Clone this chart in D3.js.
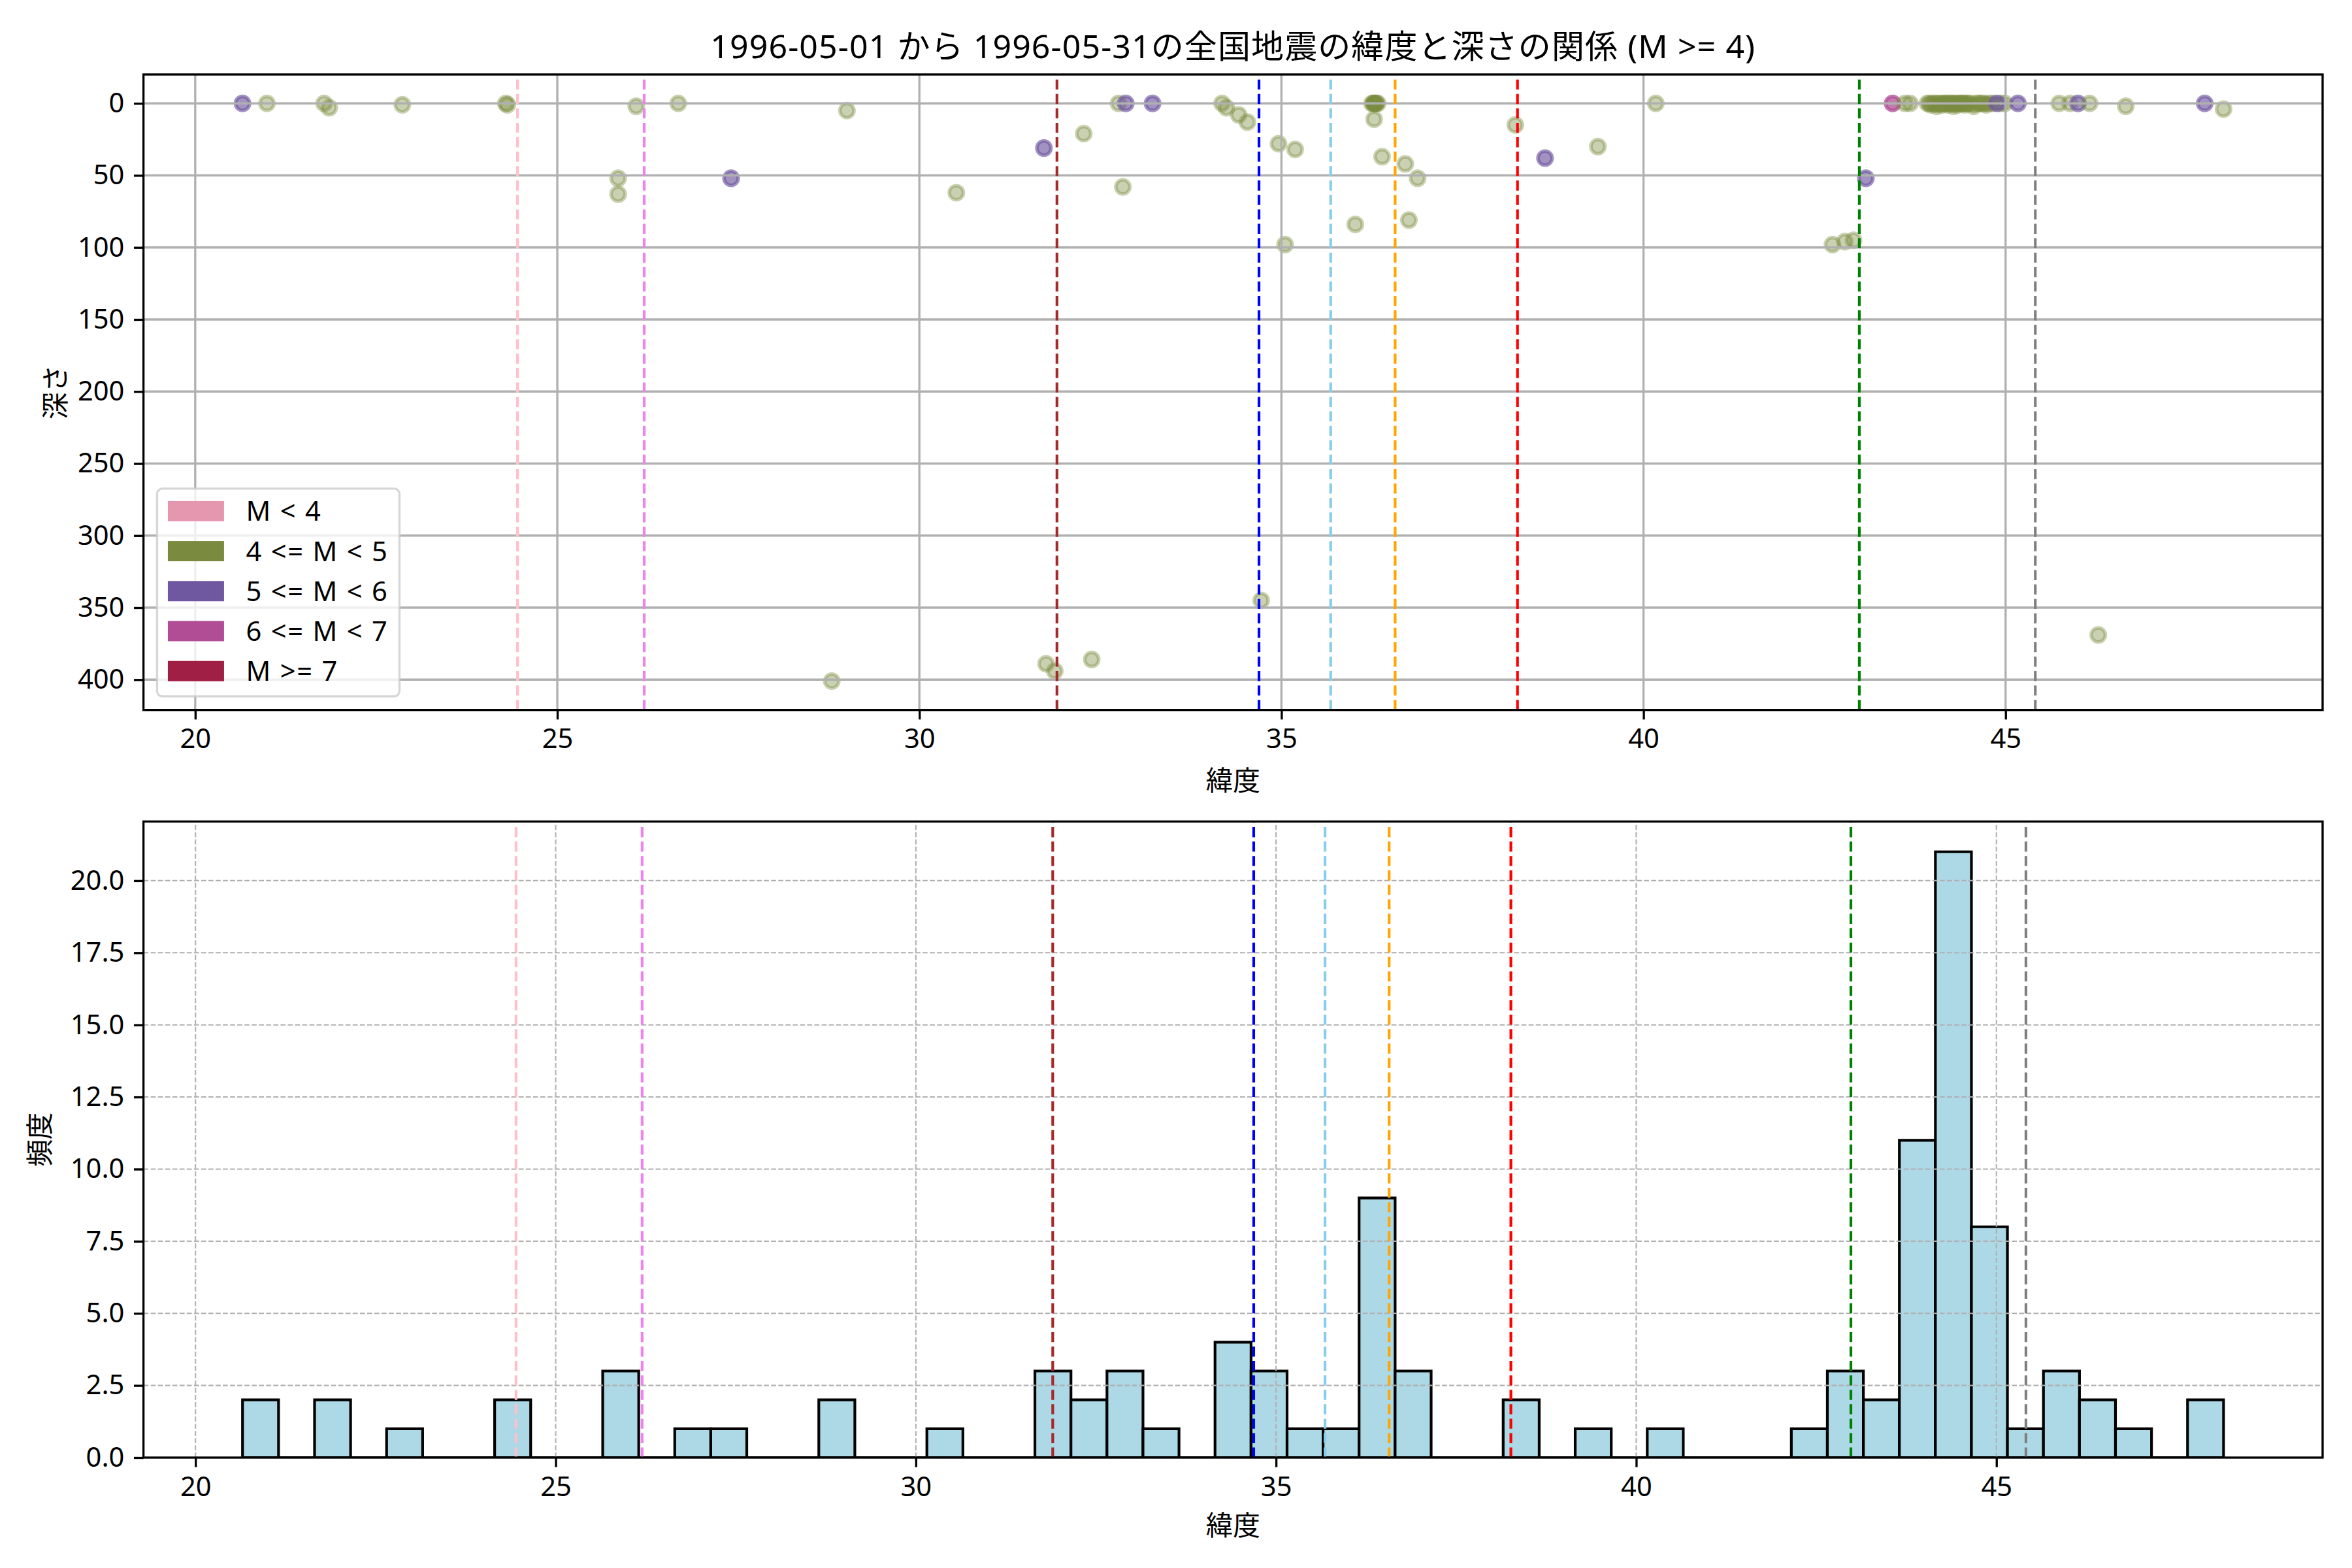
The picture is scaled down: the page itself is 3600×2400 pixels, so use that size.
<!DOCTYPE html>
<html><head><meta charset="utf-8">
<script src="https://cdn.jsdelivr.net/npm/d3@7"></script>
<style>
body{margin:0;background:#fff}
svg{display:block}
text{font-family:"Noto Sans","Noto Sans CJK JP",sans-serif;fill:#000}
</style>
</head><body><svg id="c" width="3600" height="2400"></svg>
<script>
// ---------- data ----------
const titleText = "1996-05-01 から 1996-05-31の全国地震の緯度と深さの関係 (M >= 4)";
const quakeLat = [
  20.653, 20.99, 21.78, 21.85, 22.86, 24.29, 24.31, 25.84, 25.84, 26.09,
  26.67, 27.40, 28.79, 29.00, 30.51, 31.72, 31.75, 31.87, 32.27, 32.38,
  32.75, 32.81, 32.85, 33.22, 34.18, 34.24, 34.41, 34.53, 34.72, 34.96,
  35.05, 35.19, 36.02, 36.25, 36.27, 36.28, 36.29, 36.30, 36.31, 36.33,
  36.28, 36.39, 36.71, 36.76, 36.88, 38.23, 38.64, 39.37, 40.17, 42.61,
  42.78, 42.90, 43.07, 43.44, 43.61, 43.68,
  43.92, 43.95, 43.97, 44.00, 44.02, 44.05, 44.07, 44.09, 44.12, 44.14,
  44.16, 44.18, 44.20, 44.22, 44.24, 44.26, 44.28, 44.30, 44.32, 44.34,
  44.36, 44.38, 44.40, 44.42, 44.44, 44.46, 44.48, 44.52, 44.56, 44.60, 44.63,
  44.67, 44.70, 44.73, 44.77, 44.82, 44.93, 44.99,
  44.88, 45.17, 45.74, 45.89, 46.00, 46.16, 46.28, 46.66, 47.75, 48.01
];
const quakeDepth = [
  0, 0, 0, 3, 1, 0, 1, 52, 63, 2,
  0, 52, 401, 5, 62, 31, 389, 394, 21, 386,
  0, 58, 0, 0, 0, 3, 8, 13, 345, 28,
  98, 32, 84, 0, 0, 0, 0, 0, 0, 0,
  11, 37, 42, 81, 52, 15, 38, 30, 0, 98,
  96, 95, 52, 0, 0, 0,
  0, 0, 1, 0, 0, 2, 0, 0, 1, 0,
  0, 0, 1, 0, 0, 0, 2, 0, 0, 1,
  0, 0, 0, 0, 1, 0, 0, 0, 2, 0, 0,
  0, 0, 1, 0, 0, 0, 0,
  0, 0, 0, 0, 0, 0, 369, 2, 0, 4
];
// magnitude class index: 0 M<4, 1 4-5, 2 5-6, 3 6-7, 4 M>=7
const quakeMagClass = [
  2, 1, 1, 1, 1, 1, 1, 1, 1, 1,
  1, 2, 1, 1, 1, 2, 1, 1, 1, 1,
  1, 1, 2, 2, 1, 1, 1, 1, 1, 1,
  1, 1, 1, 1, 1, 1, 1, 1, 1, 1,
  1, 1, 1, 1, 1, 1, 2, 1, 1, 1,
  1, 1, 2, 3, 1, 1,
  1, 1, 1, 1, 1, 1, 1, 1, 1, 1,
  1, 1, 1, 1, 1, 1, 1, 1, 1, 1,
  1, 1, 1, 1, 1, 1, 1, 1, 1, 1, 1,
  1, 1, 1, 1, 1, 1, 1,
  2, 2, 1, 1, 2, 1, 1, 1, 2, 1
];
const magLabels = ["M < 4", "4 <= M < 5", "5 <= M < 6", "6 <= M < 7", "M >= 7"];
const magColors = ["#e597b0", "#7a8b3f", "#7058a0", "#b04d94", "#a01f44"];
const magAlpha = [0.4, 0.4, 0.65, 0.75, 0.85];

const refLat = [24.45, 26.20, 31.90, 34.69, 35.68, 36.57, 38.26, 42.98, 45.41];
const refColors = ["pink", "violet", "brown", "blue", "skyblue", "orange", "red", "green", "gray"];

const histStart = 20.653;
const histBinWidth = 0.5;
const histCounts = [
  2, 0, 2, 0, 1, 0, 0, 2, 0, 0,
  3, 0, 1, 1, 0, 0, 2, 0, 0, 1,
  0, 0, 3, 2, 3, 1, 0, 4, 3, 1,
  1, 9, 3, 0, 0, 2, 0, 1, 0, 1,
  0, 0, 0, 1, 3, 2, 11, 21, 8, 1,
  3, 2, 1, 0, 2
];

const latTicks = [20, 25, 30, 35, 40, 45];
const depthTicks = [0, 50, 100, 150, 200, 250, 300, 350, 400];
const freqTicks = [0, 2.5, 5, 7.5, 10, 12.5, 15, 17.5, 20];
const xLabelText = "緯度";
const depthLabelText = "深さ";
const freqLabelText = "頻度";

// ---------- layout ----------
const PT = 300 / 72;
const FS = 10 * PT;          // 41.67 px
const FONT = '"Noto Sans","Noto Sans CJK JP",sans-serif';
const L = 219.6, R = 3555;
const top1 = 114, bot1 = 1086.7;
const top2 = 1257.4, bot2 = 2231;
const tickLen = 3.5 * PT, tickPad = 3.5 * PT, spineW = 0.8 * PT;

const svg = d3.select("#c");
const defs = svg.append("defs");
defs.append("clipPath").attr("id", "clip1").append("rect")
  .attr("x", L).attr("y", top1).attr("width", R - L).attr("height", bot1 - top1);
defs.append("clipPath").attr("id", "clip2").append("rect")
  .attr("x", L).attr("y", top2).attr("width", R - L).attr("height", bot2 - top2);

function pad(ext, f) { const d = ext[1] - ext[0]; return [ext[0] - f * d, ext[1] + f * d]; }

// ---------- top scatter ----------
const x1 = d3.scaleLinear().domain(pad(d3.extent(quakeLat), 0.05)).range([L, R]);
const y1 = d3.scaleLinear().domain(pad([0, d3.max(quakeDepth)], 0.05)).range([top1, bot1]);

const g1 = svg.append("g");
const p1 = g1.append("g").attr("clip-path", "url(#clip1)");
const idx = d3.range(quakeLat.length);
p1.selectAll("circle.q").data(idx).join("circle")
  .attr("cx", i => x1(quakeLat[i])).attr("cy", i => y1(quakeDepth[i]))
  .attr("r", 10.8)
  .attr("fill", i => magColors[quakeMagClass[i]])
  .attr("fill-opacity", i => magAlpha[quakeMagClass[i]])
  .attr("stroke", i => magColors[quakeMagClass[i]])
  .attr("stroke-opacity", i => magAlpha[quakeMagClass[i]])
  .attr("stroke-width", 5.5);
// grid (above scatter)
p1.selectAll("line.gx").data(latTicks).join("line")
  .attr("x1", d => x1(d)).attr("x2", d => x1(d)).attr("y1", top1).attr("y2", bot1)
  .attr("stroke", "#b0b0b0").attr("stroke-width", spineW);
p1.selectAll("line.gy").data(depthTicks).join("line")
  .attr("y1", d => y1(d)).attr("y2", d => y1(d)).attr("x1", L).attr("x2", R)
  .attr("stroke", "#b0b0b0").attr("stroke-width", spineW);
// reference lines
p1.selectAll("line.ref").data(refLat).join("line")
  .attr("x1", d => x1(d)).attr("x2", d => x1(d)).attr("y1", bot1).attr("y2", top1)
  .attr("stroke", (d, i) => refColors[i]).attr("stroke-width", 1 * PT)
  .attr("stroke-dasharray", `${3.7 * PT} ${1.6 * PT}`);

function styleAxis(g) {
  g.select(".domain").remove();
  g.selectAll(".tick line").attr("stroke", "#000").attr("stroke-width", spineW);
  g.selectAll(".tick text").attr("font-size", FS).attr("fill", "#000").attr("font-family", FONT);
}
g1.append("g").attr("transform", `translate(0,${bot1})`)
  .call(d3.axisBottom(x1).tickValues(latTicks).tickFormat(d3.format("d")).tickSize(tickLen).tickPadding(tickPad))
  .call(styleAxis);
g1.append("g").attr("transform", `translate(${L},0)`)
  .call(d3.axisLeft(y1).tickValues(depthTicks).tickFormat(d3.format("d")).tickSize(tickLen).tickPadding(tickPad))
  .call(styleAxis);
g1.append("rect").attr("x", L).attr("y", top1).attr("width", R - L).attr("height", bot1 - top1)
  .attr("fill", "none").attr("stroke", "#000").attr("stroke-width", spineW);

// legend
const lg = g1.append("g");
const lgX = L + 0.5 * FS, lgB = bot1 - 0.5 * FS;
const rowH = 61.2, lgH = 318;
lg.append("rect").attr("x", lgX).attr("y", lgB - lgH).attr("width", 371).attr("height", lgH)
  .attr("rx", 8).attr("fill", "#fff").attr("fill-opacity", 0.8)
  .attr("stroke", "#cccccc").attr("stroke-opacity", 0.8).attr("stroke-width", 3.3);
magLabels.forEach((lab, i) => {
  const cy = lgB - lgH + 34.5 + rowH * i;
  lg.append("rect").attr("x", lgX + 16.5).attr("y", cy - 15.5).attr("width", 86).attr("height", 31)
    .attr("fill", magColors[i]);
  lg.append("text").attr("x", lgX + 136).attr("y", cy + 15).attr("font-size", FS)
    .attr("letter-spacing", 1.8).text(lab);
});

// labels
svg.append("text").attr("x", (L + R) / 2).attr("y", 89).attr("text-anchor", "middle")
  .attr("font-size", 12 * PT).attr("letter-spacing", 1.1).text(titleText);
svg.append("text").attr("x", (L + R) / 2).attr("y", 1210).attr("text-anchor", "middle")
  .attr("font-size", FS).text(xLabelText);
svg.append("text").attr("transform", `translate(100,${(top1 + bot1) / 2}) rotate(-90)`)
  .attr("text-anchor", "middle").attr("font-size", FS).text(depthLabelText);

// ---------- bottom histogram ----------
const histEdges = d3.range(histCounts.length + 1).map(i => histStart + i * histBinWidth);
const x2 = d3.scaleLinear().domain(pad([histEdges[0], histEdges[histEdges.length - 1]], 0.05)).range([L, R]);
const y2 = d3.scaleLinear().domain([0, d3.max(histCounts) * 1.05]).range([bot2, top2]);

const g2 = svg.append("g");
const p2 = g2.append("g").attr("clip-path", "url(#clip2)");
p2.selectAll("path.bar").data(histCounts).join("path")
  .attr("d", (c, i) => {
    const a = x2(histEdges[i]), b = x2(histEdges[i + 1]), yb = y2(0), yt = y2(c);
    return `M${a},${yb}V${yt}H${b}V${yb}Z`;
  })
  .attr("fill", "#add8e6").attr("stroke", "#000").attr("stroke-width", 1 * PT)
  .attr("stroke-linejoin", "miter");
const gridDash = `${3.7 * 0.5 * PT} ${1.6 * 0.5 * PT}`;
p2.selectAll("line.gx").data(latTicks).join("line")
  .attr("x1", d => x2(d)).attr("x2", d => x2(d)).attr("y1", bot2).attr("y2", top2)
  .attr("stroke", "#b0b0b0").attr("stroke-width", 0.5 * PT).attr("stroke-dasharray", gridDash);
p2.selectAll("line.gy").data(freqTicks).join("line")
  .attr("y1", d => y2(d)).attr("y2", d => y2(d)).attr("x1", L).attr("x2", R)
  .attr("stroke", "#b0b0b0").attr("stroke-width", 0.5 * PT).attr("stroke-dasharray", gridDash);
p2.selectAll("line.ref").data(refLat).join("line")
  .attr("x1", d => x2(d)).attr("x2", d => x2(d)).attr("y1", bot2).attr("y2", top2)
  .attr("stroke", (d, i) => refColors[i]).attr("stroke-width", 1 * PT)
  .attr("stroke-dasharray", `${3.7 * PT} ${1.6 * PT}`);

g2.append("g").attr("transform", `translate(0,${bot2})`)
  .call(d3.axisBottom(x2).tickValues(latTicks).tickFormat(d3.format("d")).tickSize(tickLen).tickPadding(tickPad))
  .call(styleAxis);
g2.append("g").attr("transform", `translate(${L},0)`)
  .call(d3.axisLeft(y2).tickValues(freqTicks).tickFormat(d3.format(".1f")).tickSize(tickLen).tickPadding(tickPad))
  .call(styleAxis);
g2.append("rect").attr("x", L).attr("y", top2).attr("width", R - L).attr("height", bot2 - top2)
  .attr("fill", "none").attr("stroke", "#000").attr("stroke-width", spineW);

svg.append("text").attr("x", (L + R) / 2).attr("y", 2350).attr("text-anchor", "middle")
  .attr("font-size", FS).text(xLabelText);
svg.append("text").attr("transform", `translate(76,${(top2 + bot2) / 2}) rotate(-90)`)
  .attr("text-anchor", "middle").attr("font-size", FS).text(freqLabelText);
</script>
</body></html>
